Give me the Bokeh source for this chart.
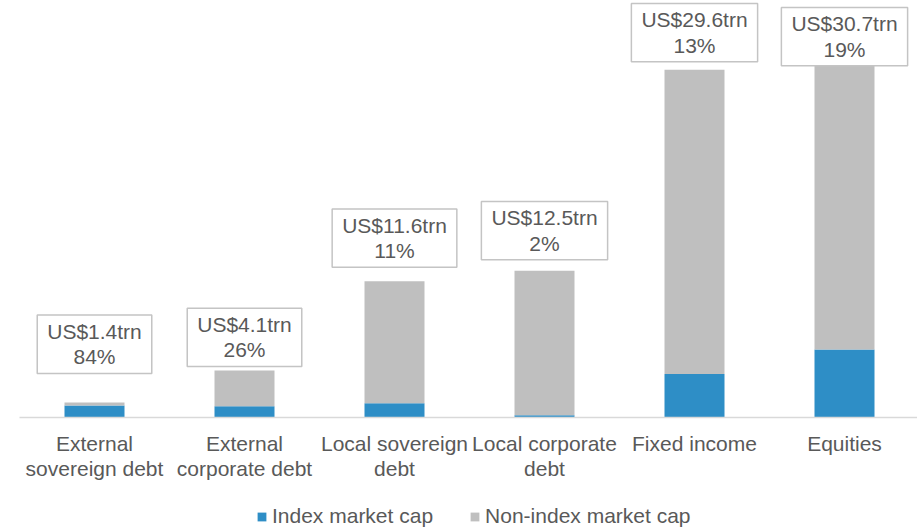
from bokeh.plotting import figure
from bokeh.models import Range1d, FixedTicker, Legend, LegendItem, ColumnDataSource
from bokeh.layouts import column
from bokeh.embed import file_html
from bokeh.resources import INLINE
from bokeh.core.properties import value

# ---- data (US$ trn) ----
categories = ["External\nsovereign debt", "External\ncorporate debt",
              "Local sovereign\ndebt", "Local corporate\ndebt",
              "Fixed income", "Equities"]
index_cap = [1.03, 0.97, 1.22, 0.20, 3.72, 5.81]
non_index_cap = [0.26, 3.05, 10.43, 12.34, 26.00, 24.25]
total_labels = ["US$1.4trn", "US$4.1trn", "US$11.6trn", "US$12.5trn",
                "US$29.6trn", "US$30.7trn"]
index_share_labels = ["84%", "26%", "11%", "2%", "13%", "19%"]
series_names = ["Index market cap", "Non-index market cap"]

# ---- style ----
label_gap_px = [29, 4, 14, 11, 8, 0]
BLUE = "#2E8EC6"
GRAY = "#BFBFBF"
TEXT = "#595959"
FONT = "Liberation Sans"
FS = "21px"
PAD_V = 5
PAD_H = 10
LEGEND_H = 40

xs = list(range(len(categories)))
totals = [a + b for a, b in zip(index_cap, non_index_cap)]
src = ColumnDataSource(dict(
    x=xs, index=index_cap, non_index=non_index_cap, total=totals,
    label=[f"{t}\n{s}" for t, s in zip(total_labels, index_share_labels)],
    yoff=[-g for g in label_gap_px],
))

p = figure(width=917, height=528 - LEGEND_H,
           x_range=Range1d(-0.5, -0.5 + 898 / 150), y_range=Range1d(0, 35.64),
           output_backend="svg", toolbar_location=None,
           min_border_left=19, min_border_right=0, min_border_top=0,
           min_border_bottom=528 - LEGEND_H - 417, y_axis_location=None)
p.vbar_stack(["index", "non_index"], x="x", width=0.4,
             color=[BLUE, GRAY], line_color=None, source=src)
p.text(x="x", y="total", text="label", y_offset="yoff",
       text_align="center", text_baseline="bottom",
       text_font=value(FONT), text_font_size=FS, text_color=TEXT,
       text_line_height=1.1,
       background_fill_color="white", border_line_color="#C4C4C4",
       border_line_width=1.5,
       padding=dict(left=PAD_H, right=PAD_H, top=PAD_V, bottom=PAD_V),
       source=src)

ax = p.xaxis[0]
ax.ticker = FixedTicker(ticks=xs)
ax.major_label_overrides = {i: c for i, c in zip(xs, categories)}
ax.major_label_text_font = FONT
ax.major_label_text_font_size = FS
ax.major_label_text_color = TEXT
ax.major_label_text_line_height = 1.1
ax.major_tick_line_color = None
ax.minor_tick_line_color = None
ax.axis_line_color = "#D9D9D9"
ax.axis_line_width = 1.5
ax.major_label_standoff = 8
p.xgrid.visible = False
p.ygrid.visible = False
p.outline_line_color = None

# legend strip below the chart (renderers hidden, only used for the legend)
p2 = figure(width=917, height=LEGEND_H,
            x_range=p.x_range, y_range=p.y_range,
            x_axis_location=None, y_axis_location=None,
            output_backend="svg", toolbar_location=None,
            min_border_left=19, min_border_right=0, min_border_top=0,
            min_border_bottom=0)
p2.grid.visible = False
p2.outline_line_color = None
lbars = p2.vbar_stack(["index", "non_index"], x="x", width=0.4,
                      color=[BLUE, GRAY], line_color=None, source=src)
for r in lbars:
    r.visible = False
legend = Legend(items=[LegendItem(label=series_names[0], renderers=[lbars[0]]),
                       LegendItem(label=series_names[1], renderers=[lbars[1]])],
                orientation="horizontal", location=(237, 0),
                glyph_width=11, glyph_height=11, label_standoff=5, spacing=36,
                padding=0, margin=0, border_line_color=None,
                background_fill_alpha=0, inactive_fill_alpha=0,
                click_policy="none",
                label_text_font=FONT, label_text_font_size=FS,
                label_text_color=TEXT)
p2.add_layout(legend)

layout = column(p, p2, spacing=0)
open("out.html", "w").write(file_html(layout, INLINE))
